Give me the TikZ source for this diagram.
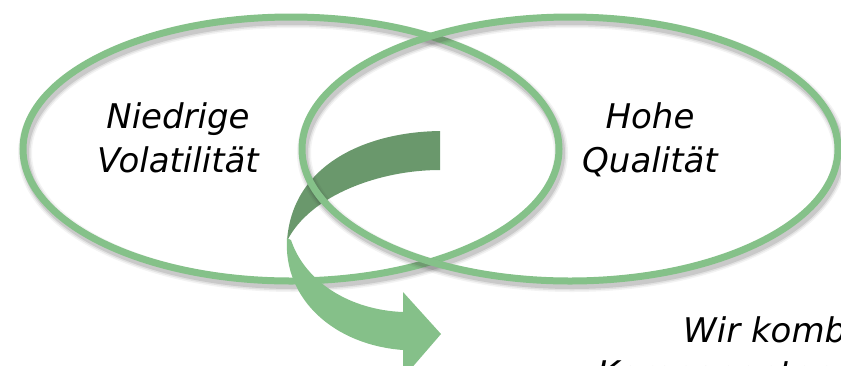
\documentclass[tikz,border=0pt]{standalone}
\usepackage{fontspec}
\setmainfont{DejaVu Sans}
\definecolor{ringgreen}{HTML}{85C189}
\definecolor{arrowdark}{HTML}{6A986C}
\definecolor{arrowlight}{HTML}{85C089}
\tikzset{
  ring/.style={draw=ringgreen, line width=7pt},
  vtext/.style={font=\fontsize{34}{41}\selectfont\itshape, inner sep=0pt, anchor=base, text=black},
}
\newcommand{\ringshadow}[2]{%
  \foreach \w/\o in {14/0.06, 11/0.09, 8/0.14}
    \draw[line width=\w pt, black!80, opacity=\o, shift={(2,4)}] (#1,#2) ellipse [x radius=268, y radius=132];
}
\begin{document}
\begin{tikzpicture}[x=1pt, y=-1pt]
\useasboundingbox (0,0) rectangle (841,365);
\clip (0,0) rectangle (841,365);
% left ring
\ringshadow{291}{149}
\draw[ring] (291,149) ellipse [x radius=268, y radius=132];
% curved arrow, back (dark) part
\fill[arrowdark] (440,131) .. controls (365,132) and (292,165) .. (287,241)
  .. controls (310,195) and (380,170) .. (440,170) -- cycle;
% curved arrow, front (light) part
\fill[arrowlight] (287,238) .. controls (283,300) and (335,345) .. (403,350)
  -- (403,378) -- (441,334) -- (403,292) -- (403,312)
  .. controls (350,310) and (305,282) .. (291,240) -- cycle;
% right ring
\ringshadow{570}{149}
\draw[ring] (570,149) ellipse [x radius=268, y radius=132];
% texts
\node[vtext] (n1) at (178,128) {Niedrige};
\node[vtext] (n2) at (178,172) {Volatilität};
\node[vtext] (h1) at (650,128) {Hohe};
\node[vtext] (h2) at (650,172) {Qualität};
\node[vtext, anchor=base west] (w1) at (683,342) {Wir kombinieren beide};
\node[vtext, anchor=base west] (w2) at (597,385) {Komponenten};
\end{tikzpicture}
\end{document}
